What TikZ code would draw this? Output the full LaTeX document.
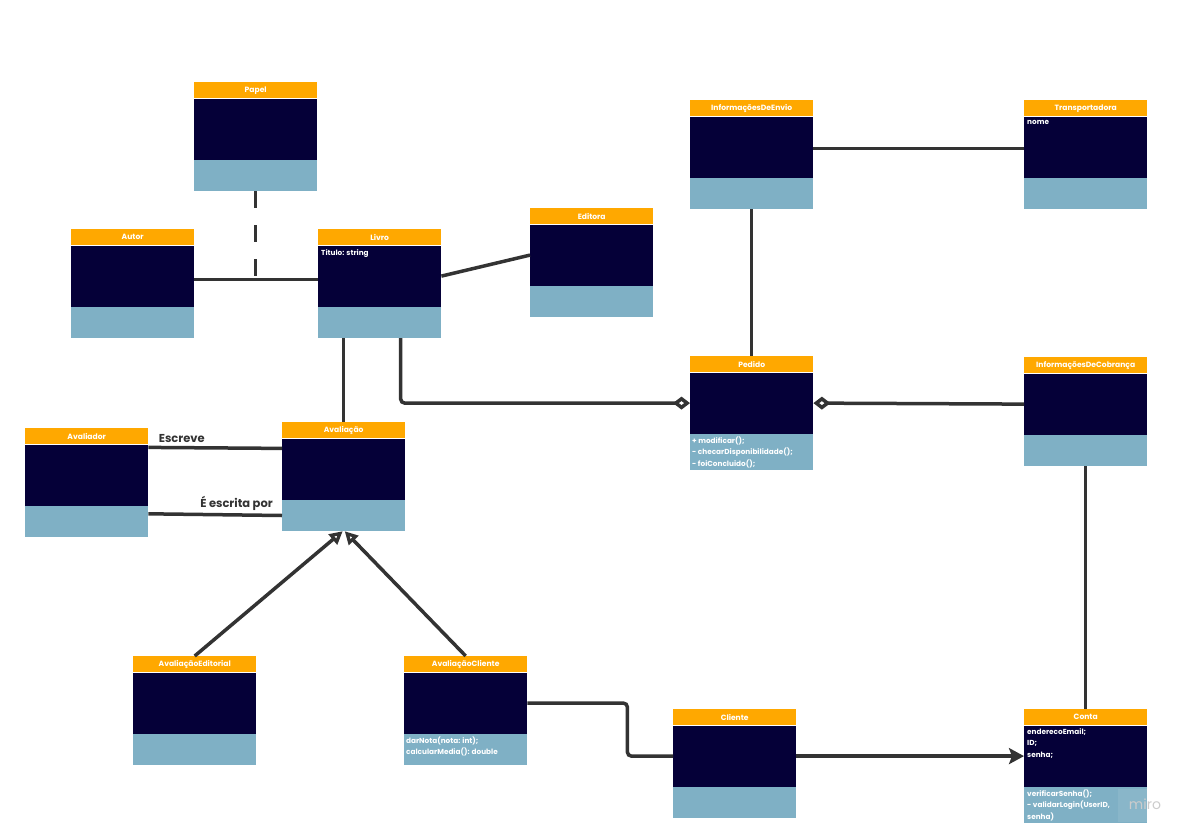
\documentclass[tikz,border=0pt]{standalone}
\usepackage{fontspec}
\setmainfont{Poppins}
\usepackage{xcolor}
\usetikzlibrary{positioning,calc,arrows.meta}

\definecolor{hdrorange}{RGB}{255,168,0}
\definecolor{bodynavy}{RGB}{5,0,56}
\definecolor{footblue}{RGB}{127,176,197}
\definecolor{linegray}{RGB}{51,51,51}

\tikzset{
    hdr/.style={anchor=north west, fill=hdrorange, text=white, inner sep=0pt,
        minimum width=123pt, minimum height=16pt, font=\bfseries\fontsize{7.6}{8}\selectfont},
    body/.style={fill=bodynavy, inner sep=0pt, minimum width=123pt, minimum height=61pt},
    foot/.style={fill=footblue, inner sep=0pt, minimum width=123pt, minimum height=31pt},
    txt/.style={text=white, inner sep=0pt, align=left, font=\bfseries\fontsize{7.3}{11.3}\selectfont},
    conn/.style={draw=linegray, line width=3.5pt},
    rel/.style={text=linegray, inner sep=3pt, font=\bfseries\fontsize{11.5}{13}\selectfont},
    agg/.style={-{Diamond[open, length=17pt, width=13pt]}},
    inh/.style={-{Triangle[open, length=13pt, width=13pt]}},
}

\begin{document}
\begin{tikzpicture}[x=1pt, y=-1pt]
    \useasboundingbox (0,0) rectangle (1192,838);

    % Papel
    \node[hdr] (papel) at (194,82) {Papel};
    \node[body, below=0pt of papel] (papel-b) {};
    \node[foot, below=0pt of papel-b] (papel-f) {};

    % Autor
    \node[hdr] (autor) at (71,229) {Autor};
    \node[body, below=0pt of autor] (autor-b) {};
    \node[foot, below=0pt of autor-b] (autor-f) {};

    % Livro
    \node[hdr] (livro) at (318,229) {Livro};
    \node[body, below=0pt of livro] (livro-b) {};
    \node[foot, below=0pt of livro-b] (livro-f) {};
    \node[txt, below right=4pt and 3pt of livro-b.north west] (livro-a) {Titulo: string};

    % Editora
    \node[hdr] (editora) at (530,208) {Editora};
    \node[body, below=0pt of editora] (editora-b) {};
    \node[foot, below=0pt of editora-b] (editora-f) {};

    % InformacoesDeEnvio
    \node[hdr] (envio) at (690,100) {InformaçõesDeEnvio};
    \node[body, below=0pt of envio] (envio-b) {};
    \node[foot, below=0pt of envio-b] (envio-f) {};

    % Transportadora
    \node[hdr] (transp) at (1024,100) {Transportadora};
    \node[body, below=0pt of transp] (transp-b) {};
    \node[foot, below=0pt of transp-b] (transp-f) {};
    \node[txt, below right=4pt and 3pt of transp-b.north west] (transp-a) {nome};

    % Pedido
    \node[hdr] (pedido) at (690,356) {Pedido};
    \node[body, below=0pt of pedido] (pedido-b) {};
    \node[foot, minimum height=36pt, below=0pt of pedido-b] (pedido-f) {};
    \node[txt, below right=3pt and 2pt of pedido-f.north west] (pedido-m)
        {+ modificar();\\- checarDisponibilidade();\\- foiConcluido();};

    % InformacoesDeCobranca
    \node[hdr] (cobranca) at (1024,357) {InformaçõesDeCobrança};
    \node[body, below=0pt of cobranca] (cobranca-b) {};
    \node[foot, below=0pt of cobranca-b] (cobranca-f) {};

    % Avaliador
    \node[hdr] (avaliador) at (25,428) {Avaliador};
    \node[body, below=0pt of avaliador] (avaliador-b) {};
    \node[foot, below=0pt of avaliador-b] (avaliador-f) {};

    % Avaliacao
    \node[hdr] (avaliacao) at (282,422) {Avaliação};
    \node[body, below=0pt of avaliacao] (avaliacao-b) {};
    \node[foot, below=0pt of avaliacao-b] (avaliacao-f) {};

    % AvaliacaoEditorial
    \node[hdr] (editorial) at (133,656) {AvaliaçãoEditorial};
    \node[body, below=0pt of editorial] (editorial-b) {};
    \node[foot, below=0pt of editorial-b] (editorial-f) {};

    % AvaliacaoCliente
    \node[hdr] (avcliente) at (404,656) {AvaliaçãoCliente};
    \node[body, below=0pt of avcliente] (avcliente-b) {};
    \node[foot, below=0pt of avcliente-b] (avcliente-f) {};
    \node[txt, below right=3pt and 2pt of avcliente-f.north west] (avcliente-m)
        {darNota(nota: int);\\calcularMedia(): double};

    % Cliente
    \node[hdr] (cliente) at (673,709) {Cliente};
    \node[body, below=0pt of cliente] (cliente-b) {};
    \node[foot, below=0pt of cliente-b] (cliente-f) {};

    % Conta
    \node[hdr] (conta) at (1024,709) {Conta};
    \node[body, below=0pt of conta] (conta-b) {};
    \node[foot, minimum height=36pt, below=0pt of conta-b] (conta-f) {};
    \node[txt, below right=3pt and 3pt of conta-b.north west] (conta-a)
        {enderecoEmail;\\ID;\\senha;};
    \node[txt, below right=3pt and 3pt of conta-f.north west] (conta-m)
        {verificarSenha();\\- validarLogin(UserID,\\senha)};

    % watermark
    \fill[white, opacity=0.08] (1118,789) rectangle (1147,822);
    \node[text=gray!40, font=\fontsize{14}{14}\selectfont] (miro) at (1145,804) {miro};

    % connectors
    \coordinate (papel-link) at ($([yshift=-3.5pt]autor-b.east)!0.5!([yshift=-3.5pt]livro-b.west)$);
    \draw[conn] ([yshift=-3.5pt]autor-b.east) -- ([yshift=-3.5pt]livro-b.west);
    \draw[conn, dash pattern=on 17pt off 17pt] (papel-f.south) -- (papel-f.south |- papel-link);
    \draw[conn] (livro-b.east) -- (editora-b.west);
    \draw[conn] (livro-f.south -| avaliacao.north) -- (avaliacao.north);
    \draw[conn, agg, rounded corners=4pt] ([xshift=21pt]livro-f.south) |- (pedido-b.west);
    \draw[conn] (envio-f.south) -- (pedido.north);
    \draw[conn] ([yshift=-1.5pt]envio-b.east) -- ([yshift=-1.5pt]transp-b.west);
    \draw[conn, agg] (cobranca-b.west) -- (pedido-b.east);
    \draw[conn] (cobranca-f.south) -- (conta.north);

    \draw[conn] ([yshift=-3pt]avaliador-b.north east) -- ([yshift=-10pt]avaliacao-b.north west)
        node[rel, above, pos=0.25] {Escreve};
    \draw[conn] ([yshift=-8pt]avaliador-f.north east) -- (avaliacao-f.west)
        node[rel, above, pos=0.66] {É escrita por};

    \draw[conn, inh] (editorial.north) -- ([xshift=-1pt]avaliacao-f.south);
    \draw[conn, inh] (avcliente.north) -- ([xshift=1pt]avaliacao-f.south);

    \draw[conn, rounded corners=4pt] (avcliente-b.east) -- ++(100,0) |- (cliente-b.west);
    \draw[conn, -{Stealth[length=15pt, width=16pt, inset=3pt]}] (cliente-b.east) -- (conta-b.west);
\end{tikzpicture}
\end{document}
